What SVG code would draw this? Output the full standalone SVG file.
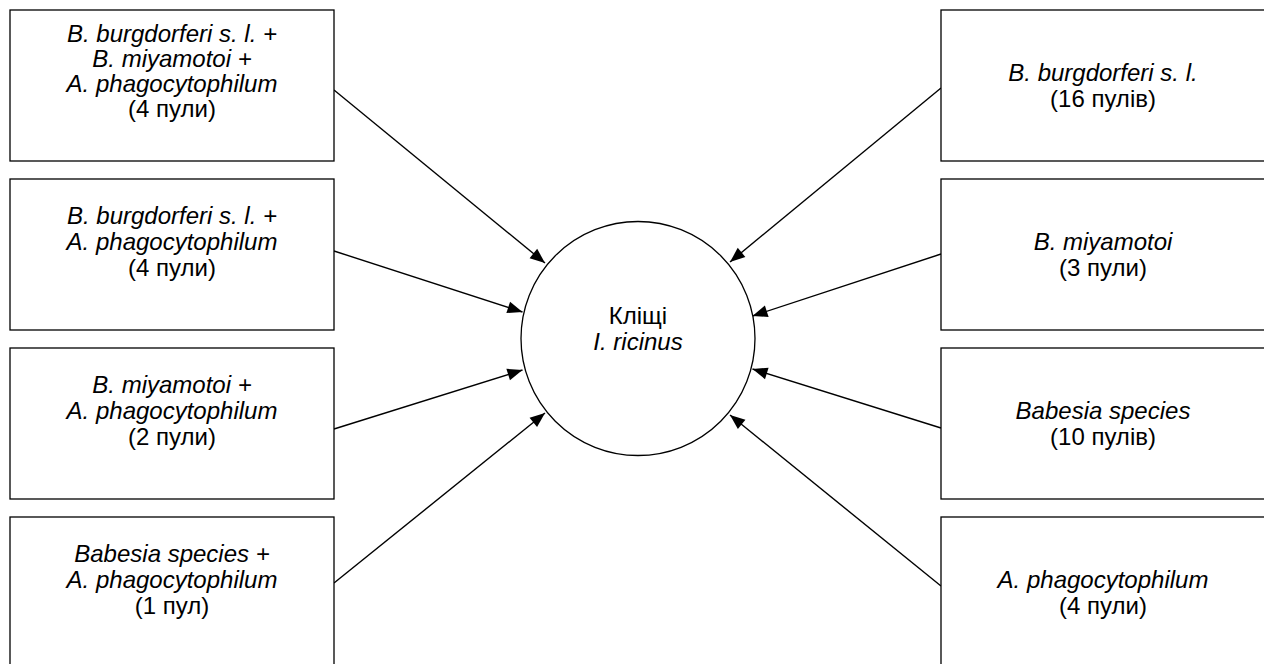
<svg xmlns="http://www.w3.org/2000/svg" width="1264" height="664" viewBox="0 0 1264 664">
<style>
.box{fill:#fff;stroke:#000;stroke-width:1.3}
.t{font-family:"Liberation Sans",Arial,sans-serif;font-size:24px;fill:#000;text-anchor:middle}
.i{font-style:italic}
.edge{stroke:#000;stroke-width:1.4;fill:none;marker-end:url(#arr)}
</style>
<defs>
<marker id="arr" markerUnits="userSpaceOnUse" markerWidth="17" markerHeight="13" refX="16" refY="6.5" orient="auto" viewBox="0 0 17 13">
<path d="M1,0.5 L16,6.5 L1,12.5 Z" fill="#000"/>
</marker>
</defs>
<rect width="1264" height="664" fill="#fff"/>
<g id="connectors">
<line class="edge" x1="334" y1="90" x2="545" y2="263"/>
<line class="edge" x1="334" y1="251" x2="522.5" y2="312"/>
<line class="edge" x1="334" y1="429" x2="522.5" y2="370"/>
<line class="edge" x1="334" y1="583" x2="545" y2="413"/>
<line class="edge" x1="941" y1="88" x2="730" y2="262"/>
<line class="edge" x1="941" y1="254" x2="752.5" y2="316"/>
<line class="edge" x1="941" y1="428" x2="752.5" y2="369"/>
<line class="edge" x1="941" y1="586" x2="730" y2="415"/>
</g>
<g id="center">
<circle class="box" cx="638" cy="338.5" r="117"/>
<text class="t" x="638" y="324">Кліщі</text>
<text class="t i" x="638" y="350">I. ricinus</text>
</g>
<g id="l1">
<rect class="box" x="10" y="10" width="324" height="151"/>
<text class="t i" x="172" y="42">B. burgdorferi s. l. +</text>
<text class="t i" x="172" y="67">B. miyamotoi +</text>
<text class="t i" x="172" y="92">A. phagocytophilum</text>
<text class="t" x="172" y="117">(4 пули)</text>
</g>
<g id="l2">
<rect class="box" x="10" y="179" width="324" height="151"/>
<text class="t i" x="172" y="224">B. burgdorferi s. l. +</text>
<text class="t i" x="172" y="250">A. phagocytophilum</text>
<text class="t" x="172" y="276">(4 пули)</text>
</g>
<g id="l3">
<rect class="box" x="10" y="348" width="324" height="151"/>
<text class="t i" x="172" y="393">B. miyamotoi +</text>
<text class="t i" x="172" y="419">A. phagocytophilum</text>
<text class="t" x="172" y="445">(2 пули)</text>
</g>
<g id="l4">
<rect class="box" x="10" y="517" width="324" height="151"/>
<text class="t i" x="172" y="562">Babesia species +</text>
<text class="t i" x="172" y="588">A. phagocytophilum</text>
<text class="t" x="172" y="614">(1 пул)</text>
</g>
<g id="r1">
<rect class="box" x="941" y="10" width="324" height="151"/>
<text class="t i" x="1103" y="81">B. burgdorferi s. l.</text>
<text class="t" x="1103" y="107">(16 пулів)</text>
</g>
<g id="r2">
<rect class="box" x="941" y="179" width="324" height="151"/>
<text class="t i" x="1103" y="250">B. miyamotoi</text>
<text class="t" x="1103" y="276">(3 пули)</text>
</g>
<g id="r3">
<rect class="box" x="941" y="348" width="324" height="151"/>
<text class="t i" x="1103" y="419">Babesia species</text>
<text class="t" x="1103" y="445">(10 пулів)</text>
</g>
<g id="r4">
<rect class="box" x="941" y="517" width="324" height="151"/>
<text class="t i" x="1103" y="588">A. phagocytophilum</text>
<text class="t" x="1103" y="614">(4 пули)</text>
</g>
</svg>
